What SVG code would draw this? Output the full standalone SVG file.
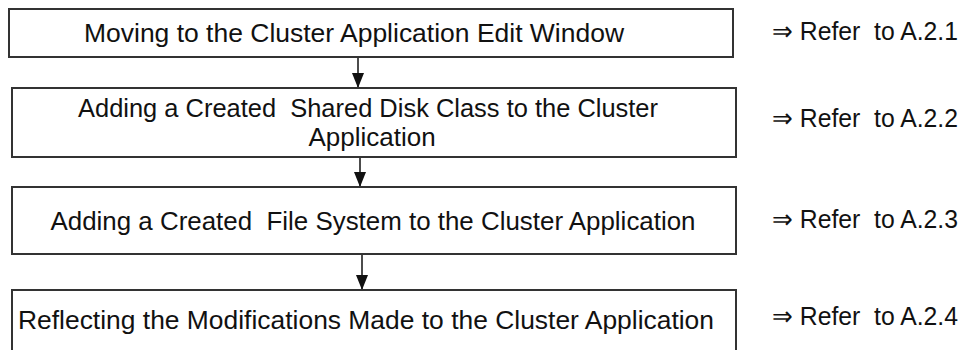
<svg xmlns="http://www.w3.org/2000/svg" width="966" height="350" viewBox="0 0 966 350">
<defs>
<style>
.box{fill:#fff;stroke:#333;stroke-width:2}
.t{font-family:"Liberation Sans",Arial,sans-serif;font-size:26px;fill:#111;text-anchor:middle}
.r{font-family:"Liberation Sans",Arial,sans-serif;font-size:26px;fill:#111}
.ln{stroke:#111;stroke-width:1.5;fill:none}
</style>
<marker id="ah" viewBox="0 0 15 12" refX="15" refY="6" markerWidth="15" markerHeight="12" orient="auto" markerUnits="userSpaceOnUse">
<path d="M0,0 L15,6 L0,12 Z" fill="#111"/>
</marker>
</defs>
<rect width="966" height="350" fill="#fff"/>
<g id="connectors">
<line class="ln" x1="358" y1="57" x2="358" y2="88" marker-end="url(#ah)"/>
<line class="ln" x1="360" y1="157" x2="360" y2="187" marker-end="url(#ah)"/>
<line class="ln" x1="362" y1="254" x2="362" y2="290" marker-end="url(#ah)"/>
</g>
<g id="n1">
<rect class="box" x="9" y="9" width="724" height="48"/>
<text class="t" x="354" y="42" textLength="540" lengthAdjust="spacingAndGlyphs">Moving to the Cluster Application Edit Window</text>
</g>
<g id="n2">
<rect class="box" x="12" y="88" width="724" height="69"/>
<text class="t" x="368" y="117" xml:space="preserve" textLength="580" lengthAdjust="spacingAndGlyphs">Adding a Created  Shared Disk Class to the Cluster</text>
<text class="t" x="372" y="146">Application</text>
</g>
<g id="n3">
<rect class="box" x="12" y="187" width="724" height="67"/>
<text class="t" x="373" y="230" xml:space="preserve" textLength="645" lengthAdjust="spacingAndGlyphs">Adding a Created  File System to the Cluster Application</text>
</g>
<g id="n4">
<rect class="box" x="12" y="290" width="724" height="80"/>
<text class="t" x="366" y="329" textLength="696" lengthAdjust="spacingAndGlyphs">Reflecting the Modifications Made to the Cluster Application</text>
</g>
<g id="labels">
<text class="r" x="772" y="40" xml:space="preserve" textLength="186" lengthAdjust="spacingAndGlyphs">⇒ Refer  to A.2.1</text>
<text class="r" x="772" y="127" xml:space="preserve" textLength="186" lengthAdjust="spacingAndGlyphs">⇒ Refer  to A.2.2</text>
<text class="r" x="772" y="228" xml:space="preserve" textLength="186" lengthAdjust="spacingAndGlyphs">⇒ Refer  to A.2.3</text>
<text class="r" x="772" y="325" xml:space="preserve" textLength="186" lengthAdjust="spacingAndGlyphs">⇒ Refer  to A.2.4</text>
</g>
</svg>
